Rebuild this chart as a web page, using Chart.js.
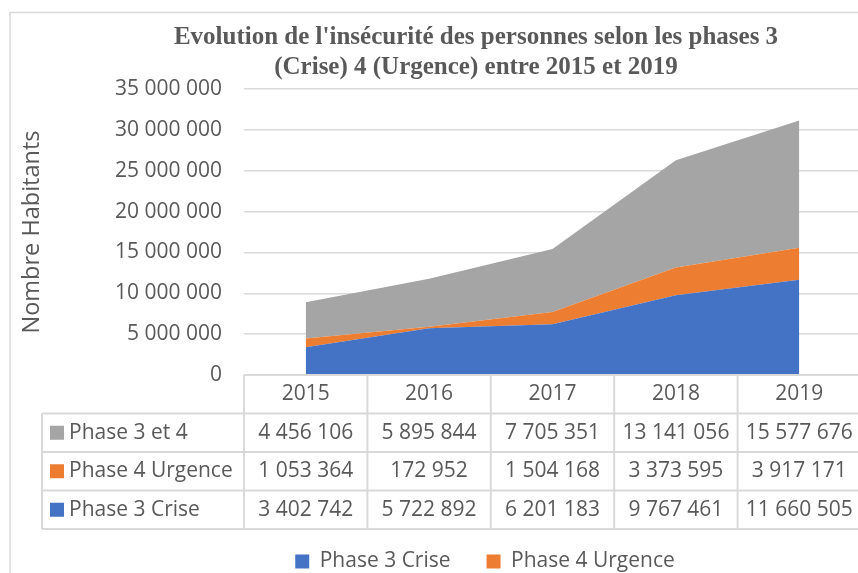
<!DOCTYPE html>
<html>
<head>
<meta charset="utf-8">
<script src="https://cdn.jsdelivr.net/npm/chart.js@4"></script>
<style>
  html, body { margin: 0; padding: 0; background: #ffffff; overflow: hidden; width: 858px; height: 573px; }
  canvas { display: block; }
</style>
</head>
<body>
<canvas id="c" width="952" height="582" style="width:952px;height:582px"></canvas>
<script>
const years = ['2015', '2016', '2017', '2018', '2019'];
const phase3Crise = [3402742, 5722892, 6201183, 9767461, 11660505];
const phase4Urgence = [1053364, 172952, 1504168, 3373595, 3917171];
const phase3et4 = [4456106, 5895844, 7705351, 13141056, 15577676];
const seriesNames = ['Phase 3 Crise', 'Phase 4 Urgence', 'Phase 3 et 4'];
const seriesColors = ['#4472C4', '#ED7D31', '#A5A5A5'];
const titleLines = ["Evolution de l'insécurité des personnes selon les phases 3", "(Crise) 4 (Urgence) entre 2015 et 2019"];
const yAxisTitle = 'Nombre Habitants';
const yMin = 0, yMax = 35000000, yStep = 5000000;

const TEXT = '#595959';
const GRID = '#d9d9d9';
const SANS = "'Open Sans', sans-serif";

function fmt(n) {
  return String(Math.round(n)).replace(/\B(?=(\d{3})+(?!\d))/g, ' ');
}

const tableRows = [
  { name: seriesNames[2], color: seriesColors[2], values: phase3et4 },
  { name: seriesNames[1], color: seriesColors[1], values: phase4Urgence },
  { name: seriesNames[0], color: seriesColors[0], values: phase3Crise }
];

const framePlugin = {
  id: 'frame',
  afterLayout(chart) {
    if (chart.legend) {
      chart.legend.left += 9;
      chart.legend.right += 9;
    }
  },
  beforeDraw(chart) {
    const ctx = chart.ctx;
    ctx.save();
    ctx.strokeStyle = GRID;
    ctx.lineWidth = 1.5;
    ctx.strokeRect(10, 12.5, 932, 700);
    ctx.restore();
  }
};

const tablePlugin = {
  id: 'dataTable',
  afterDraw(chart) {
    const ctx = chart.ctx;
    const xs = chart.scales.x;
    const n = years.length;
    const cw = (xs.right - xs.left) / n;
    const top = chart.chartArea.bottom;
    const rowH = 38.5;
    const leftX = 42;
    ctx.save();
    ctx.strokeStyle = GRID;
    ctx.lineWidth = 2;
    ctx.beginPath();
    ctx.moveTo(xs.left, top); ctx.lineTo(xs.right, top);
    for (let r = 1; r <= tableRows.length; r++) {
      const y = top + rowH * r;
      ctx.moveTo(leftX, y); ctx.lineTo(xs.right, y);
    }
    const bottom = top + rowH * (tableRows.length + 1);
    ctx.moveTo(leftX, bottom); ctx.lineTo(xs.right, bottom);
    ctx.moveTo(leftX, top + rowH); ctx.lineTo(leftX, bottom);
    for (let i = 0; i <= n; i++) {
      const x = xs.left + cw * i;
      ctx.moveTo(x, top); ctx.lineTo(x, bottom);
    }
    ctx.stroke();
    ctx.font = '21px ' + SANS;
    ctx.fillStyle = TEXT;
    ctx.textBaseline = 'middle';
    tableRows.forEach((row, r) => {
      const cy = top + rowH * (r + 1) + rowH / 2;
      ctx.fillStyle = row.color;
      ctx.fillRect(50, cy - 7, 14, 14);
      ctx.fillStyle = TEXT;
      ctx.textAlign = 'left';
      ctx.fillText(row.name, 69, cy);
      ctx.textAlign = 'center';
      row.values.forEach((v, i) => {
        ctx.fillText(fmt(v), xs.getPixelForValue(i), cy);
      });
    });
    ctx.restore();
  }
};

new Chart(document.getElementById('c'), {
  type: 'line',
  data: {
    labels: years,
    datasets: [
      { label: seriesNames[0], data: phase3Crise, backgroundColor: seriesColors[0], borderColor: seriesColors[0], fill: 'origin' },
      { label: seriesNames[1], data: phase4Urgence, backgroundColor: seriesColors[1], borderColor: seriesColors[1], fill: '-1' },
      { label: seriesNames[2], data: phase3et4, backgroundColor: seriesColors[2], borderColor: seriesColors[2], fill: '-1' }
    ]
  },
  options: {
    responsive: false,
    devicePixelRatio: 1,
    animation: false,
    elements: {
      point: { radius: 0, hoverRadius: 0 },
      line: { borderWidth: 0, tension: 0 }
    },
    layout: { padding: 0 },
    plugins: {
      title: {
        display: true,
        text: titleLines,
        color: TEXT,
        font: { family: "'Liberation Serif', 'Times New Roman', serif", size: 25, weight: 'bold', lineHeight: 1.2 },
        padding: { top: 23, bottom: 6 }
      },
      legend: {
        display: true,
        position: 'bottom',
        labels: {
          color: TEXT,
          font: { family: SANS, size: 21 },
          boxWidth: 14,
          boxHeight: 14,
          padding: 36,
          filter: (item) => item.datasetIndex < 2
        }
      },
      tooltip: { enabled: false }
    },
    scales: {
      x: {
        type: 'category',
        offset: true,
        grid: { display: false, drawTicks: false },
        border: { display: false },
        ticks: { color: TEXT, font: { family: SANS, size: 21 }, padding: 6, maxRotation: 0 },
        afterFit(s) { s.height = 140; }
      },
      y: {
        stacked: true,
        position: 'left',
        min: yMin,
        max: yMax,
        grid: { color: GRID, lineWidth: 1.5, drawTicks: false },
        border: { display: false },
        ticks: { stepSize: yStep, color: TEXT, font: { family: SANS, size: 21 }, padding: 22, callback: (v) => fmt(v) },
        title: { display: true, text: yAxisTitle, color: TEXT, font: { family: SANS, size: 23.5 }, padding: { top: 18, bottom: 0 } },
        afterFit(s) { s.width = 244; }
      },
      y2: {
        type: 'linear',
        position: 'right',
        display: true,
        grid: { display: false, drawTicks: false },
        border: { display: false },
        ticks: { display: false },
        afterFit(s) { s.width = 91; }
      }
    }
  },
  plugins: [framePlugin, tablePlugin]
});
</script>
</body>
</html>
